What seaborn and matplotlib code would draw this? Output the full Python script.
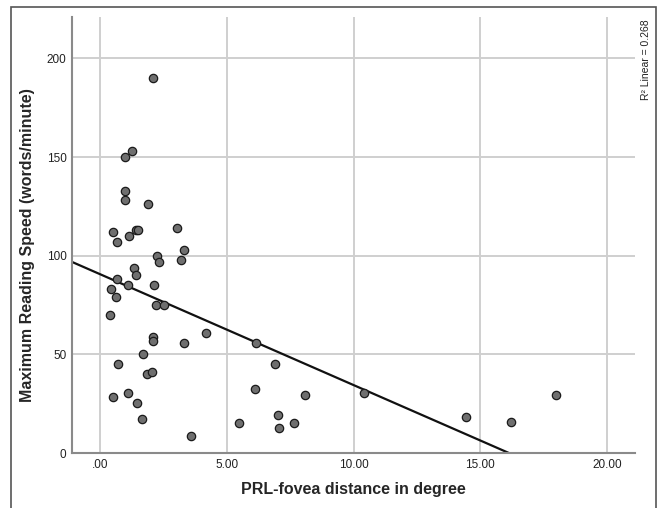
import matplotlib
matplotlib.use("Agg")
import matplotlib.pyplot as plt
import seaborn as sns
import pandas as pd
from matplotlib.patches import Rectangle

# PRL-fovea distance (degree) and maximum reading speed (words/minute)
prl_distance = [
    2.10, 1.25, 1.00, 1.00, 1.00, 1.90, 0.51, 0.67, 1.16, 1.41,
    1.52, 3.04, 3.32, 2.27, 2.32, 3.18, 1.33, 1.41, 0.67, 1.11,
    2.13, 0.43, 0.63, 2.20, 2.52, 0.40, 4.17, 2.10, 2.10, 3.30,
    6.17, 1.70, 0.73, 1.86, 2.04, 6.13, 0.53, 1.10, 1.46, 1.65,
    3.61, 5.50, 6.90, 8.10, 10.40, 7.02, 7.67, 7.08, 14.43, 16.23,
    17.98,
]
reading_speed = [
    190, 153, 150, 133, 128, 126, 112, 107, 110, 113,
    113, 114, 103, 100, 97, 98, 94, 90, 88, 85,
    85, 83, 79, 75, 75, 70, 61, 59, 57, 56,
    56, 50, 45, 40, 41, 32.5, 28.5, 30.4, 25.4, 17.3,
    8.5, 15.4, 45.3, 29.4, 30.4, 19.3, 15.4, 12.6, 18.3, 15.6,
    29.4,
]
x_ticks = [0, 5, 10, 15, 20]
x_tick_labels = [".00", "5.00", "10.00", "15.00", "20.00"]
y_ticks = [0, 50, 100, 150, 200]

df = pd.DataFrame({"distance": prl_distance, "speed": reading_speed})

sns.set_theme(style="white")
plt.rcParams["font.family"] = ["Liberation Sans", "DejaVu Sans"]

fig = plt.figure(figsize=(6.59, 5.08), dpi=100)
ax = fig.add_axes([72 / 659, 55 / 508, 563 / 659, 436 / 508])
# limits first so the fitted line spans the whole x range
ax.set_xlim(-1.1, 21.1)
ax.set_ylim(0, 221)

sns.regplot(
    data=df, x="distance", y="speed", ax=ax, ci=None, truncate=False,
    scatter_kws=dict(s=36, color="#6f6f6f", edgecolor="#1a1a1a", linewidths=0.9, alpha=1, zorder=3),
    line_kws=dict(color="#111111", lw=1.6, zorder=2),
)

ax.set_xlim(-1.1, 21.1)
ax.set_ylim(0, 221)
ax.set_xticks(x_ticks)
ax.set_xticklabels(x_tick_labels)
ax.set_yticks(y_ticks)
ax.tick_params(axis="both", labelsize=8.5, length=0, pad=4, colors="#222222")
ax.grid(True, color="#cfcfcf", lw=1.4)
ax.set_axisbelow(True)
for side in ["top", "right"]:
    ax.spines[side].set_visible(False)
for side in ["left", "bottom"]:
    ax.spines[side].set_color("#8a8a8a")
    ax.spines[side].set_linewidth(1.5)

ax.set_xlabel("PRL-fovea distance in degree", fontsize=11.5, fontweight="bold", labelpad=8)
ax.set_ylabel("Maximum Reading Speed (words/minute)", fontsize=11.5, fontweight="bold")
ax.yaxis.set_label_coords(-0.066, 0.477)

fig.text(646 / 659, 1 - 60 / 508, "R² Linear = 0.268", rotation=90, ha="center", va="center",
         fontsize=7.5, color="#222222")

fig.patches.append(Rectangle((11 / 659, -0.05), 645 / 659, 1.05 - 7 / 508, transform=fig.transFigure,
                             fill=False, edgecolor="#555555", lw=1.2))

fig.savefig("out.png", dpi=100)
